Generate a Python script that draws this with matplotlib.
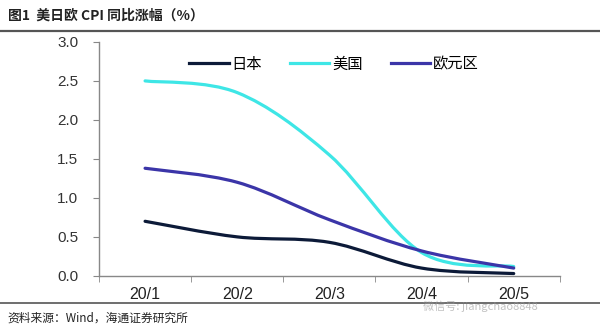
import numpy as np
import matplotlib
matplotlib.use('Agg')
import matplotlib.pyplot as plt
from matplotlib.path import Path
from matplotlib.patches import PathPatch
from matplotlib.lines import Line2D

plt.rcParams['font.family'] = ['Liberation Sans', 'Noto Sans CJK SC', 'DejaVu Sans']

# data
months = ['20/1', '20/2', '20/3', '20/4', '20/5']
japan = [0.7, 0.5, 0.43, 0.1, 0.03]
usa = [2.5, 2.35, 1.55, 0.3, 0.12]
euro = [1.38, 1.2, 0.72, 0.32, 0.1]
names = ['日本', '美国', '欧元区']
colors = ['#0c1a38', '#3ee6e6', '#3b35a8']


def smooth_path(x, y):
    # excel-style smoothed line: catmull-rom -> cubic bezier
    x = np.asarray(x, float)
    y = np.asarray(y, float)
    n = len(x)
    verts = [(x[0], y[0])]
    codes = [Path.MOVETO]
    for i in range(n - 1):
        i0 = max(i - 1, 0)
        i3 = min(i + 2, n - 1)
        c1 = (x[i] + (x[i + 1] - x[i0]) / 6, y[i] + (y[i + 1] - y[i0]) / 6)
        c2 = (x[i + 1] - (x[i3] - x[i]) / 6, y[i + 1] - (y[i3] - y[i]) / 6)
        verts += [c1, c2, (x[i + 1], y[i + 1])]
        codes += [Path.CURVE4] * 3
    return Path(verts, codes)


fig = plt.figure(figsize=(6, 3.3), dpi=100)
ax = fig.add_axes([0.165, 0.164, 0.768, 0.709])

xs = np.arange(len(months))
handles = []
for vals, name, c in zip([japan, usa, euro], names, colors):
    ax.add_patch(PathPatch(smooth_path(xs, vals), fill=False, edgecolor=c,
                           lw=2.3, capstyle='round'))
    handles.append(Line2D([], [], color=c, lw=2.3, label=name))

ax.set_xlim(-0.5, len(months) - 0.5)
ax.set_ylim(0, 3.0)
ax.set_yticks(np.arange(0, 3.01, 0.5))
ax.set_yticklabels([f'{v:.1f}' for v in np.arange(0, 3.01, 0.5)])
ax.set_xticks(xs)
ax.set_xticklabels(months)
ax.set_xticks(np.arange(-0.5, len(months), 1), minor=True)
ax.tick_params(axis='x', which='major', length=0, pad=8, labelsize=11.5, labelcolor='#222222')
ax.tick_params(axis='x', which='minor', length=4, color='#888888', direction='out')
ax.tick_params(axis='y', length=4, color='#888888', labelsize=11, labelcolor='#333333', pad=11)
for s in ['top', 'right']:
    ax.spines[s].set_visible(False)
for s in ['left', 'bottom']:
    ax.spines[s].set_color('#888888')
    ax.spines[s].set_linewidth(1)

leg = ax.legend(handles=handles, loc='upper center', bbox_to_anchor=(0.51, 1.0), ncol=3,
                frameon=False, handlelength=2.6, columnspacing=1.8, handletextpad=0.2,
                prop={'family': ['Noto Sans CJK SC'], 'size': 11})

# header / footer
fig.text(0.013, 0.952, '图1  美日欧 CPI 同比涨幅（%）', fontsize=10, fontweight='bold',
         color='#222222', va='center', family=['Noto Sans CJK SC', 'DejaVu Sans'])
fig.add_artist(Line2D([0, 1], [0.906, 0.906], color='#555555', lw=1.6))
fig.add_artist(Line2D([0, 1], [0.082, 0.082], color='#555555', lw=1.2))
fig.text(0.013, 0.036, '资料来源：Wind，海通证券研究所', fontsize=8.5, color='#222222',
         va='center', family=['Noto Sans CJK SC', 'DejaVu Sans'])
fig.text(0.80, 0.072, '微信号: jiangchao8848', fontsize=8, color='#999999', alpha=0.6,
         ha='center', va='center', family=['Noto Sans CJK SC', 'DejaVu Sans'])

fig.savefig('out.png', dpi=100)
